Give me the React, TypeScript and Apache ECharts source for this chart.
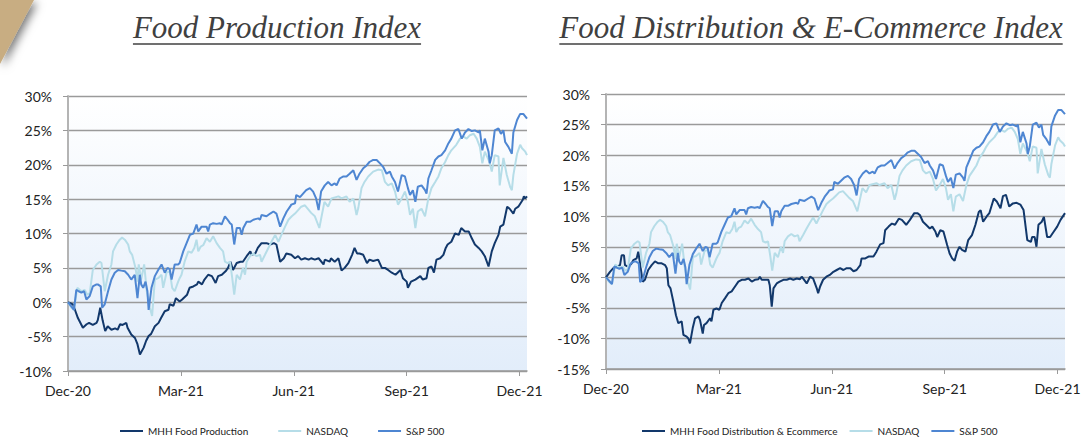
import React, { useEffect, useRef } from "react";
import * as echarts from "echarts";

// ---- axis ticks ----
const tickDays = [0, 91, 182, 273, 364];
const tickLabels = ["Dec-20", "Mar-21", "Jun-21", "Sep-21", "Dec-21"];
const xMax = 370;

const prodTitle = "Food Production Index";
const distTitle = "Food Distribution & E-Commerce Index";
const prodNames = ["MHH Food Production", "NASDAQ", "S&P 500"];
const distNames = ["MHH Food Distribution & Ecommerce", "NASDAQ", "S&P 500"];

// ---- series: [day since start, % return] ----
const nasdaq = [
  [0, 0], [2.7, -0.8], [4.8, -1.1], [7.5, 2.1], [9.4, 1.8], [11.3, 1.6], [13.5, 1.8], [15.6, 1.1], [17.5, 1.3], [20, 4.7],
  [23, 5.5], [25.6, 5.9], [27, 5.7], [29.6, 1.6], [32.3, 4.0], [35, 5.5], [36.3, 7.4], [39, 8.4], [41.7, 9.1], [43.6, 9.4],
  [45.8, 9.1], [48.5, 8.4], [49.8, 7.4], [51.7, 6.9], [54.4, 5.0], [56, 3.0], [57, 5.5], [59, 3.3], [61.4, 5.5], [63.5, 1.6],
  [66, -0.8], [67.8, -2.0], [70, 3.3], [72.7, 3.5], [75.4, 4.0], [76.7, 2.1], [79.4, 4.3], [82, 4.5], [84, 2.1], [86, 1.6],
  [88.8, 3.0], [90, 3.5], [91.5, 4.0], [94, 5.9], [97, 7.4], [99.6, 7.2], [101.8, 7.9], [103.6, 9.1], [105, 7.4], [107, 8.1],
  [109, 8.3], [111.7, 9.3], [114.4, 8.8], [117, 9.6], [119.8, 8.6], [122.5, 7.9], [125, 7.4], [126.5, 5.9], [128.7, 5.7], [130.6, 5.9],
  [132.4, 3.5], [134, 1.1], [136, 4.0], [138.6, 3.3], [141, 5.0], [142.7, 4.0], [144, 5.9], [146.7, 6.7], [149.4, 7.1], [152, 6.7],
  [154.8, 6.9], [156, 5.9], [158.8, 6.9], [161.5, 7.9], [164, 8.8], [167, 9.8], [169.6, 8.8], [172, 9.8], [175, 11.0], [177.7, 12.0],
  [180.4, 12.5], [183, 12.9], [185.5, 13.4], [188, 13.9], [191, 14.1], [196, 13.0], [199, 12.5], [202.6, 10.8], [206.7, 14.6], [209.7, 13.9],
  [212.4, 15.1], [218, 15.4], [220.5, 15.1], [224.5, 15.4], [227, 14.6], [230, 15.1], [232.6, 12.7], [234, 13.7], [236.6, 16.6], [239, 17.5],
  [242, 18.3], [246, 19.0], [250, 19.3], [253, 19.2], [255.5, 17.5], [258, 17.0], [261, 17.3], [263.6, 16.1], [266, 14.2], [269, 15.1],
  [271.6, 16.1], [274, 14.6], [275.7, 12.7], [278, 13.6], [280, 10.8], [282, 13.2], [285, 13.6], [287.8, 12.5], [290.5, 15.1], [293, 16.6],
  [296, 17.5], [298.6, 18.3], [301, 19.5], [304, 20.4], [306.6, 21.4], [309, 22.1], [313, 22.9], [316, 23.8], [318.8, 24.1], [321.4, 23.8],
  [324, 24.3], [327, 24.5], [329.5, 23.8], [332, 22.6], [334, 20.2], [336, 21.9], [339, 20.7], [340, 20.2], [341.6, 19.0], [344, 21.4],
  [347, 21.2], [348, 17.0], [351, 21.0], [353.7, 18.5], [356.4, 16.8], [357.8, 16.3], [359, 18.5], [362, 21.6], [364.5, 22.9], [366, 22.4],
  [368.6, 21.9], [370, 21.4],
];

const sp500 = [
  [0, 0], [2.7, -0.6], [4.8, -1.1], [6.7, 1.8], [8.6, 1.6], [10.8, 1.4], [13, 1.6], [14.8, 0.4], [17.5, 0.9], [20, 2.3],
  [23, 2.6], [24, 2.6], [26.4, 2.3], [27.5, -0.8], [29.6, -0.3], [32.3, 1.6], [35, 3.3], [37.7, 4.3], [40.4, 4.7], [43, 4.6],
  [45.8, 4.5], [48.5, 4.0], [51, 3.3], [53.8, 4.0], [56, 0.6], [57.9, 4.0], [59, 2.6], [60.6, 2.1], [62.5, 3.0], [64, 1.6],
  [65, -1.1], [67.3, 2.1], [70, 3.8], [72.7, 4.7], [75.4, 5.5], [78, 4.3], [80.2, 5.0], [82, 4.8], [83.5, 3.3], [86, 5.5],
  [88.8, 5.5], [90, 5.7], [92.9, 7.4], [95.6, 8.6], [98.3, 9.8], [101, 10.0], [103.6, 11.3], [105, 10.3], [107.7, 11.0], [111.7, 11.0],
  [113, 10.3], [114.4, 11.3], [117, 11.5], [119.8, 11.4], [122.5, 11.5], [123.8, 11.3], [126.5, 12.5], [128.7, 12.0], [130.6, 11.5], [132, 11.3],
  [134, 8.4], [136, 10.8], [138.6, 10.8], [140, 9.8], [141.3, 10.8], [144, 11.7], [146.7, 11.7], [149.4, 12.0], [153.4, 12.2], [154.8, 12.0],
  [156, 12.7], [160, 12.5], [163, 12.9], [165.6, 13.2], [168, 12.9], [171, 11.0], [173.6, 12.2], [176.3, 13.2], [179, 13.9], [180, 14.2],
  [183, 14.4], [184, 15.6], [187, 15.3], [189.5, 15.8], [192, 16.3], [195, 16.6], [197.6, 16.1], [200, 15.1], [202, 13.4], [204, 16.1],
  [207, 17.0], [209.7, 17.5], [212.4, 17.0], [215, 17.3], [216.5, 17.0], [219, 18.0], [222, 18.3], [224.5, 18.3], [227, 18.7], [230, 19.2],
  [232.6, 17.8], [235, 18.7], [238, 19.5], [240.7, 19.9], [243, 20.4], [246, 20.7], [248.8, 20.7], [251.5, 20.2], [254, 19.7], [256.8, 18.7],
  [259.5, 19.0], [261, 18.3], [263.6, 17.5], [266, 16.1], [269, 18.5], [271.6, 18.3], [274, 16.6], [275.7, 15.6], [278, 16.3], [280, 14.6],
  [282, 16.8], [285, 17.0], [287.8, 16.3], [289, 15.8], [290.5, 18.0], [293, 19.2], [296, 20.7], [298.6, 21.2], [301, 21.4], [304, 22.1],
  [306.6, 23.1], [309, 23.8], [312, 25.0], [314.7, 25.2], [317.4, 23.8], [320, 24.7], [322.8, 25.2], [325.5, 24.9], [328, 25.0], [331, 24.7],
  [332, 25.0], [334, 22.1], [336, 23.8], [339, 21.9], [340, 20.2], [341.6, 21.4], [344, 25.0], [347, 25.3], [349, 24.5], [351, 25.0],
  [352.4, 23.3], [355, 22.6], [357.8, 21.6], [359, 24.7], [362, 26.5], [364.5, 27.4], [367, 27.4], [370, 26.7],
];

const mhhProduction = [
  [0, 0], [4, -0.3], [5, -0.8], [8, -2.3], [12, -3.7], [15, -3.2], [17, -3.0], [20, -3.3], [23, -3.0], [24, -2.6],
  [26, -0.8], [28, -2.7], [30, -4.2], [32, -3.5], [35, -4.0], [38, -3.8], [40, -4.0], [42, -3.2], [44, -3.3], [47, -3.0],
  [48, -3.7], [51, -4.7], [54, -5.2], [56, -6.1], [58, -7.6], [61, -6.6], [63, -5.6], [65, -4.9], [67, -4.6], [70, -3.5],
  [73, -3.0], [75, -2.3], [78, -1.3], [81, -1.1], [82, -0.3], [85, -0.5], [87, 0.6], [90, 0.1], [92, 0.4], [96, 1.1],
  [98, 2.1], [101, 2.3], [104, 2.6], [105, 3.0], [108, 2.6], [110, 3.3], [113, 4.0], [116, 3.8], [119, 2.8], [121, 3.8],
  [124, 4.0], [127, 4.5], [129, 5.0], [131, 5.9], [133, 4.7], [136, 5.7], [139, 5.9], [141, 5.9], [144, 6.7], [147, 7.4],
  [148, 6.9], [151, 7.1], [153, 7.9], [156, 8.6], [160, 8.6], [163, 8.4], [166, 8.6], [168, 8.4], [171, 5.9], [174, 6.4],
  [176, 7.1], [180, 6.9], [183, 6.4], [185.5, 6.7], [188, 6.2], [191, 6.4], [194, 6.2], [196, 6.4], [199, 6.2], [202, 6.4],
  [206, 5.5], [207, 6.2], [211, 5.9], [212, 6.4], [215, 5.9], [218, 6.4], [220.5, 4.6], [223, 5.0], [226, 5.7], [229, 6.9],
  [231, 7.9], [233, 7.1], [235, 7.1], [238, 6.9], [241, 5.7], [243, 6.2], [246, 6.0], [250, 6.2], [253, 5.0], [255.5, 5.0],
  [258, 4.7], [261, 4.3], [264, 4.0], [268, 4.7], [270, 3.5], [273, 3.0], [274, 2.1], [276.5, 3.0], [280, 3.3], [284, 3.8],
  [286, 3.3], [289, 3.5], [290.5, 5.0], [293, 5.2], [295, 4.3], [297, 6.2], [300, 6.4], [302.6, 6.9], [304.5, 7.9], [306, 8.4],
  [309, 8.8], [312, 10.0], [315, 9.8], [317, 10.8], [320, 10.3], [323, 10.3], [325.5, 9.3], [328, 8.4], [331, 7.9], [333.5, 7.4],
  [336, 6.7], [339, 5.2], [341.6, 7.4], [344, 8.6], [347, 9.8], [348.4, 11.0], [351, 11.3], [354, 13.9], [356, 13.6], [359, 12.9],
  [360.5, 13.6], [363, 13.9], [366.6, 14.9], [367.5, 15.4], [368.6, 15.1], [370, 15.4],
];

const mhhDistribution = [
  [0, 0], [3.2, 0.9], [5.9, 1.5], [8.6, 1.7], [11.3, 2.0], [12.6, 3.6], [14.5, 3.6], [15.3, 2.0], [18, 1.7], [20.7, 2.3],
  [22, 2.8], [24.7, 3.1], [26, 4.2], [27.4, 2.3], [29.6, -0.7], [31.4, -0.4], [34, 1.2], [36.8, 2.0], [39.5, 2.6], [42.2, 2.3],
  [44.9, 2.3], [47.6, 2.0], [49, 1.5], [50.3, -1.3], [52, -1.8], [54.3, -4.0], [56.4, -6.2], [58.3, -7.5], [61, -7.2], [62.4, -9.4],
  [65, -9.7], [66.4, -10.0], [67.7, -10.8], [69.9, -8.3], [71.8, -6.7], [74.5, -6.4], [75.8, -7.0], [78, -9.2], [79, -7.8], [81, -7.5],
  [83.9, -6.7], [85, -7.2], [86.6, -5.3], [89, -5.1], [91.4, -5.3], [93.3, -4.2], [96, -3.4], [98.6, -2.6], [101.3, -2.3], [104, -1.5],
  [106.7, -0.7], [109.4, -0.4], [112, -0.4], [114.8, -0.2], [117.5, -0.7], [120, -0.4], [122.8, -0.3], [124, 0.1], [125.5, -0.4], [128, -0.4],
  [130.9, -0.4], [132, -1.3], [133.6, -4.8], [135, -1.8], [137.6, -1.0], [140, -0.7], [143, -0.4], [145.7, -0.4], [148.4, -0.2], [151, -0.4],
  [153.8, -0.2], [156.4, -0.3], [157.8, 0.1], [159, -0.2], [161.8, -1.0], [164.5, 0.1], [167, -0.2], [169.9, -1.8], [171, -2.6], [172.6, -1.5],
  [175, -0.4], [177.7, 0.1], [180.4, 0.4], [183.3, 0.9], [186, 1.2], [188.7, 1.5], [191.4, 1.2], [194, 1.5], [197, 1.5], [199.5, 1.0],
  [202, 1.2], [205, 2.0], [206, 3.1], [209, 3.1], [211.6, 3.4], [215.6, 3.4], [218, 4.2], [221, 5.4], [223.7, 5.6], [225, 7.7],
  [227.8, 8.3], [230.5, 8.8], [233, 8.6], [236, 9.6], [238.5, 9.4], [242, 8.6], [245, 9.4], [248.5, 10.5], [251, 10.5], [253, 10.2],
  [255.5, 9.1], [258, 8.6], [261, 8.0], [263, 8.3], [265.5, 7.5], [267, 6.6], [269.5, 7.7], [272, 7.5], [275, 5.3], [277, 3.9],
  [279, 3.1], [281, 2.7], [283, 4.2], [285, 5.0], [287, 4.5], [289.7, 4.2], [292, 6.1], [295, 6.9], [297.8, 8.6], [300.5, 10.7],
  [302, 11.0], [304, 9.1], [307, 10.0], [309, 10.5], [312.6, 12.9], [315, 12.4], [318, 11.3], [320, 13.3], [322.4, 13.5], [325, 11.6],
  [328, 12.1], [331, 12.2], [334, 11.9], [336.6, 11.0], [339.6, 6.1], [342.5, 5.8], [343.5, 6.6], [345.5, 6.6], [347, 5.0], [348.6, 8.6],
  [351.3, 9.1], [353, 9.9], [355.6, 6.6], [358, 6.6], [361, 7.5], [363.7, 8.3], [366.4, 9.4], [370, 10.5],
];

const COLORS = { mhh: "#12386B", nasdaq: "#B6DDE8", sp: "#4E86D2" };
const TITLE_FONT = 'italic 31px "Liberation Serif"';

function measure(text: string, font: string): number {
  const c = document.createElement("canvas").getContext("2d");
  if (!c) return text.length * 14;
  c.font = font;
  return c.measureText(text).width;
}

export default function App() {
  const ref = useRef<HTMLDivElement>(null);
  useEffect(() => {
    if (!ref.current) return;
    const chart = echarts.init(ref.current, undefined, { renderer: "svg" });

    const bg = new echarts.graphic.LinearGradient(0, 0, 0, 1, [
      { offset: 0, color: "#FFFFFF" },
      { offset: 1, color: "#E2EDFA" },
    ]);

    const grids = [
      { left: 68, top: 96, width: 459, height: 275 },
      { left: 606, top: 94, width: 459, height: 275 },
    ];

    const xAxis = grids.map((_, i) => ({
      type: "value",
      gridIndex: i,
      min: 0,
      max: xMax,
      interval: 91,
      axisLine: { show: true, onZero: false, lineStyle: { color: "#9A9A9A", width: 1.5 } },
      axisTick: { show: true, length: 5, customValues: tickDays, lineStyle: { color: "#9A9A9A" } },
      axisLabel: {
        customValues: tickDays,
        margin: 12,
        fontFamily: "Lato",
        fontSize: 14,
        color: "#222",
        formatter: (v: number) => {
          const k = tickDays.indexOf(Math.round(v));
          return k >= 0 ? tickLabels[k] : "";
        },
      },
      splitLine: { show: false },
    }));

    const yRanges = [
      [-10, 30],
      [-15, 30],
    ];
    const yAxis = yRanges.map(([mn, mx], i) => ({
      type: "value",
      gridIndex: i,
      min: mn,
      max: mx,
      interval: 5,
      axisLine: { show: true, onZero: false, lineStyle: { color: "#B4B4B4", width: 2 } },
      axisTick: { show: true, length: 5, lineStyle: { color: "#9A9A9A" } },
      axisLabel: {
        margin: 16,
        fontFamily: "Lato",
        fontSize: 14,
        color: "#222",
        formatter: (v: number) => `${v}%`,
      },
      splitLine: { show: true, lineStyle: { color: "#9A9A9A", width: 1.3 } },
    }));

    const mk = (name: string, data: number[][], color: string, i: number) => ({
      type: "line",
      name,
      xAxisIndex: i,
      yAxisIndex: i,
      data,
      showSymbol: false,
      symbol: "none",
      lineStyle: { color, width: 2 },
      itemStyle: { color },
    });

    const series = [
      mk(prodNames[0], mhhProduction, COLORS.mhh, 0),
      mk(prodNames[1], nasdaq, COLORS.nasdaq, 0),
      mk(prodNames[2], sp500, COLORS.sp, 0),
      mk(distNames[0], mhhDistribution, COLORS.mhh, 1),
      mk(distNames[1], nasdaq, COLORS.nasdaq, 1),
      mk(distNames[2], sp500, COLORS.sp, 1),
    ];

    const legendBase = {
      top: 426,
      padding: 0,
      icon: "rect",
      itemWidth: 23,
      itemHeight: 2,
      textStyle: { fontFamily: "Lato", fontSize: 10, color: "#222" },
      selectedMode: false,
    };

    const titleDefs = [
      { text: prodTitle, cx: 277 },
      { text: distTitle, cx: 811 },
    ];
    const titleGraphics: any[] = [];
    titleDefs.forEach((t) => {
      const w = measure(t.text, TITLE_FONT);
      titleGraphics.push({
        type: "text",
        x: t.cx,
        y: 43,
        style: {
          text: t.text,
          font: TITLE_FONT,
          fill: "#404040",
          textAlign: "center",
          textVerticalAlign: "bottom",
        },
      });
      titleGraphics.push({
        type: "line",
        shape: { x1: t.cx - w / 2, y1: 44, x2: t.cx + w / 2, y2: 44 },
        style: { stroke: "#404040", lineWidth: 1.5 },
      });
    });

    chart.setOption({
      animation: false,
      backgroundColor: "#FFFFFF",
      grid: grids.map((g) => ({ ...g, show: true, backgroundColor: bg, borderWidth: 0 })),
      xAxis,
      yAxis,
      legend: [
        { ...legendBase, left: 120, itemGap: 30, data: prodNames },
        { ...legendBase, left: 642, itemGap: 12, data: distNames },
      ],
      series,
      graphic: [
        {
          type: "polygon",
          shape: { points: [[0, 0], [34, 0], [0, 64]] },
          style: {
            fill: "#C8AD82",
            shadowBlur: 10,
            shadowColor: "rgba(0,0,0,0.55)",
            shadowOffsetX: 3,
            shadowOffsetY: 3,
          },
        },
        ...titleGraphics,
      ],
    });
    return () => chart.dispose();
  }, []);
  return (
    <div
      ref={ref}
      style={{ position: "absolute", left: 0, top: 0, width: 1087, height: 440 }}
    />
  );
}
